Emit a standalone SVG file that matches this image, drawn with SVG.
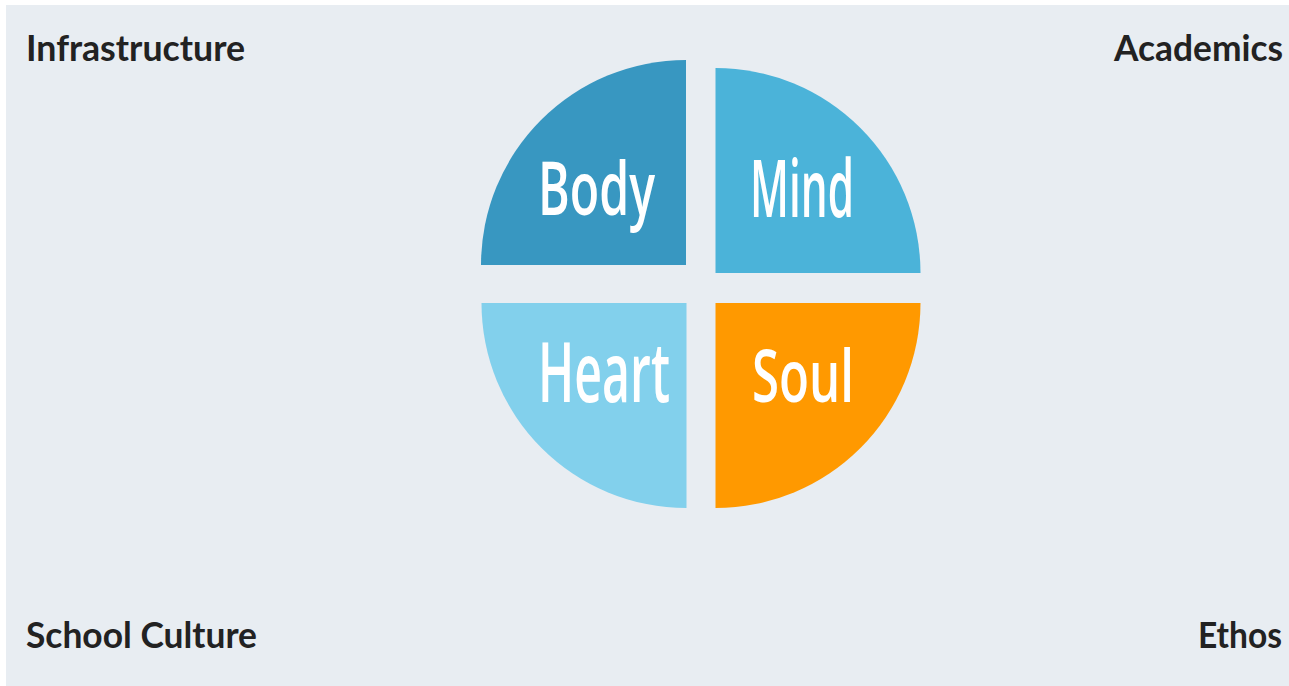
<svg xmlns="http://www.w3.org/2000/svg" width="1289" height="686" viewBox="0 0 1289 686">
<style>
.corner{font-family:Lato,"Open Sans","Liberation Sans",sans-serif;font-weight:700;font-size:37px;fill:#222222}
.q{font-family:"Open Sans",Lato,"Liberation Sans",sans-serif;font-weight:600;fill:#ffffff}
</style>
<rect x="0" y="0" width="1289" height="686" fill="#ffffff"/>
<rect x="6" y="5" width="1283" height="681" fill="#E8EDF2"/>
<g id="body">
<path d="M686,265 L481,265 A205,205 0 0 1 686,60 Z" fill="#3897C1"/>
<text class="q" x="538" y="215" font-size="74" textLength="117" lengthAdjust="spacingAndGlyphs">Body</text>
</g>
<g id="mind">
<path d="M715.5,273 L715.5,68 A205,205 0 0 1 920.5,273 Z" fill="#4BB3D9"/>
<text class="q" x="750" y="217" font-size="79" textLength="104" lengthAdjust="spacingAndGlyphs">Mind</text>
</g>
<g id="heart">
<path d="M686.5,303 L686.5,508 A205,205 0 0 1 481.5,303 Z" fill="#82D0EC"/>
<text class="q" x="538" y="402" font-size="83" textLength="132" lengthAdjust="spacingAndGlyphs">Heart</text>
</g>
<g id="soul">
<path d="M715.5,303 L920.5,303 A205,205 0 0 1 715.5,508 Z" fill="#FF9900"/>
<text class="q" x="752" y="402" font-size="72" textLength="102" lengthAdjust="spacingAndGlyphs">Soul</text>
</g>
<g id="infrastructure"><text class="corner" x="26" y="61" textLength="219" lengthAdjust="spacingAndGlyphs">Infrastructure</text></g>
<g id="academics"><text class="corner" x="1114" y="61" textLength="169" lengthAdjust="spacingAndGlyphs">Academics</text></g>
<g id="school-culture"><text class="corner" x="26" y="648" textLength="231" lengthAdjust="spacingAndGlyphs">School Culture</text></g>
<g id="ethos"><text class="corner" x="1198" y="648" textLength="84" lengthAdjust="spacingAndGlyphs">Ethos</text></g>
<g id="connectors"></g>
</svg>
